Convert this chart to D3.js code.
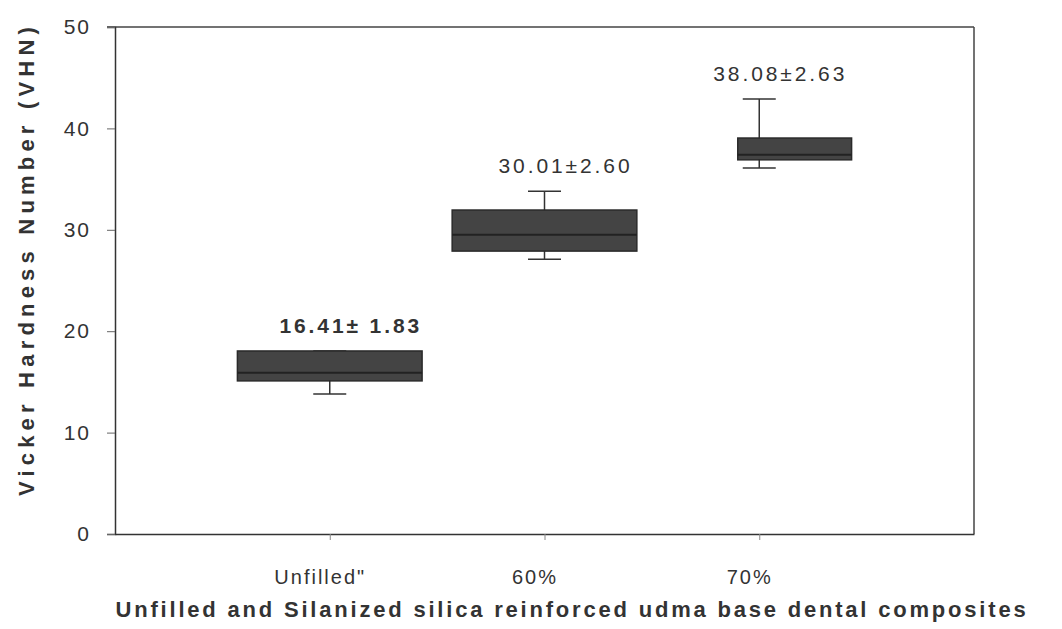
<!DOCTYPE html>
<html>
<head>
<meta charset="utf-8">
<script src="https://cdn.jsdelivr.net/npm/d3@7"></script>
<style>
  body { margin: 0; background: #fff; }
  svg { display: block; font-family: "Liberation Sans", Arial, sans-serif; }
</style>
</head>
<body>
<div id="chart"></div>
<script>
// categories and box statistics (VHN)
const categories = ['Unfilled"', '60%', '70%'];
const q1 = [15.1, 27.9, 36.9];
const median = [15.9, 29.5, 37.4];
const q3 = [18.05, 31.95, 39.05];
const whiskerLow = [13.8, 27.1, 36.1];
const whiskerHigh = [18.05, 33.8, 42.9];
const annotations = ['16.41± 1.83', '30.01±2.60', '38.08±2.63'];
const annotationBold = [true, false, false];
const yTicks = [0, 10, 20, 30, 40, 50];

const W = 1062, H = 629;
const margin = {top: 27, right: 88, bottom: 95, left: 115};
const w = W - margin.left - margin.right,
      h = H - margin.top - margin.bottom;

const svg = d3.select('#chart').append('svg')
    .attr('width', W)
    .attr('height', H);

const g = svg.append('g')
    .attr('transform', `translate(${margin.left},${margin.top})`);

// 4 slots, categories sit on the inner ticks
const x = d3.scalePoint()
    .domain(['', ...categories, ' '])
    .range([0, w]);

const y = d3.scaleLinear()
    .domain([0, 50])
    .range([h, 0]);

const step = x.step();
const capW = 33;
// box extent around the category tick (the 70% box is drawn short on its left side)
const boxLeft = (d, i) => x(d.c) - (i === 2 ? 0.1 : 0.43) * step;
const boxRight = d => x(d.c) + 0.43 * step;

// frame top/right
g.append('line').attr('x1', -8).attr('x2', w).attr('y1', 0).attr('y2', 0)
    .attr('stroke', '#444').attr('stroke-width', 1.5);
g.append('line').attr('x1', w).attr('x2', w).attr('y1', 0).attr('y2', h)
    .attr('stroke', '#444').attr('stroke-width', 1.5);

// y axis
const yAxis = d3.axisLeft(y).tickValues(yTicks).tickSize(8).tickPadding(16);
const ya = g.append('g').call(yAxis);
ya.select('.domain').attr('stroke', '#333').attr('stroke-width', 1.5);
ya.selectAll('.tick line').attr('stroke', '#666');
ya.selectAll('text')
    .attr('fill', '#333')
    .style('font-size', '21px')
    .style('letter-spacing', '2px');

// x axis
const xAxis = d3.axisBottom(x).tickValues(categories).tickSize(6).tickPadding(30).tickSizeOuter(0);
const xa = g.append('g').attr('transform', `translate(0,${h})`).call(xAxis);
xa.select('.domain').attr('stroke', '#333').attr('stroke-width', 1.5);
xa.selectAll('.tick line').attr('stroke', '#888');
xa.selectAll('text')
    .attr('fill', '#333')
    .attr('dx', -10)
    .style('font-size', '20px')
    .style('letter-spacing', '2px');

// boxes
const data = categories.map((c, i) => ({
    c, q1: q1[i], med: median[i], q3: q3[i], lo: whiskerLow[i], hi: whiskerHigh[i],
    label: annotations[i], bold: annotationBold[i]
}));

const boxes = g.selectAll('g.box').data(data).enter().append('g').attr('class', 'box');

// whiskers
boxes.append('line')
    .attr('x1', d => x(d.c)).attr('x2', d => x(d.c))
    .attr('y1', d => y(d.hi)).attr('y2', d => y(d.lo))
    .attr('stroke', '#333').attr('stroke-width', 1.5);
boxes.append('line')
    .attr('x1', d => x(d.c) - capW / 2).attr('x2', d => x(d.c) + capW / 2)
    .attr('y1', d => y(d.hi)).attr('y2', d => y(d.hi))
    .attr('stroke', '#333').attr('stroke-width', 1.5);
boxes.append('line')
    .attr('x1', d => x(d.c) - capW / 2).attr('x2', d => x(d.c) + capW / 2)
    .attr('y1', d => y(d.lo)).attr('y2', d => y(d.lo))
    .attr('stroke', '#333').attr('stroke-width', 1.5);

boxes.append('rect')
    .attr('x', boxLeft)
    .attr('width', (d, i) => boxRight(d) - boxLeft(d, i))
    .attr('y', d => y(d.q3))
    .attr('height', d => y(d.q1) - y(d.q3))
    .attr('fill', '#444')
    .attr('stroke', '#2a2a2a')
    .attr('stroke-width', 1.5);

boxes.append('line')
    .attr('x1', boxLeft).attr('x2', boxRight)
    .attr('y1', d => y(d.med)).attr('y2', d => y(d.med))
    .attr('stroke', '#222').attr('stroke-width', 2);

boxes.append('text')
    .attr('x', d => x(d.c) + 21)
    .attr('y', d => y(d.hi) - 18)
    .attr('text-anchor', 'middle')
    .attr('fill', '#333')
    .style('font-size', '21px')
    .style('font-weight', d => d.bold ? 'bold' : 'normal')
    .style('letter-spacing', '2.9px')
    .text(d => d.label);

// axis titles
svg.append('text')
    .attr('x', 572)
    .attr('y', 617)
    .attr('text-anchor', 'middle')
    .attr('fill', '#333')
    .style('font-size', '22px')
    .style('font-weight', 'bold')
    .style('letter-spacing', '2.8px')
    .text('Unfilled and Silanized silica reinforced udma base dental composites');

svg.append('text')
    .attr('transform', 'translate(34,259) rotate(-90)')
    .attr('text-anchor', 'middle')
    .attr('fill', '#333')
    .style('font-size', '22px')
    .style('font-weight', 'bold')
    .style('letter-spacing', '5.2px')
    .text('Vicker Hardness Number (VHN)');
</script>
</body>
</html>
